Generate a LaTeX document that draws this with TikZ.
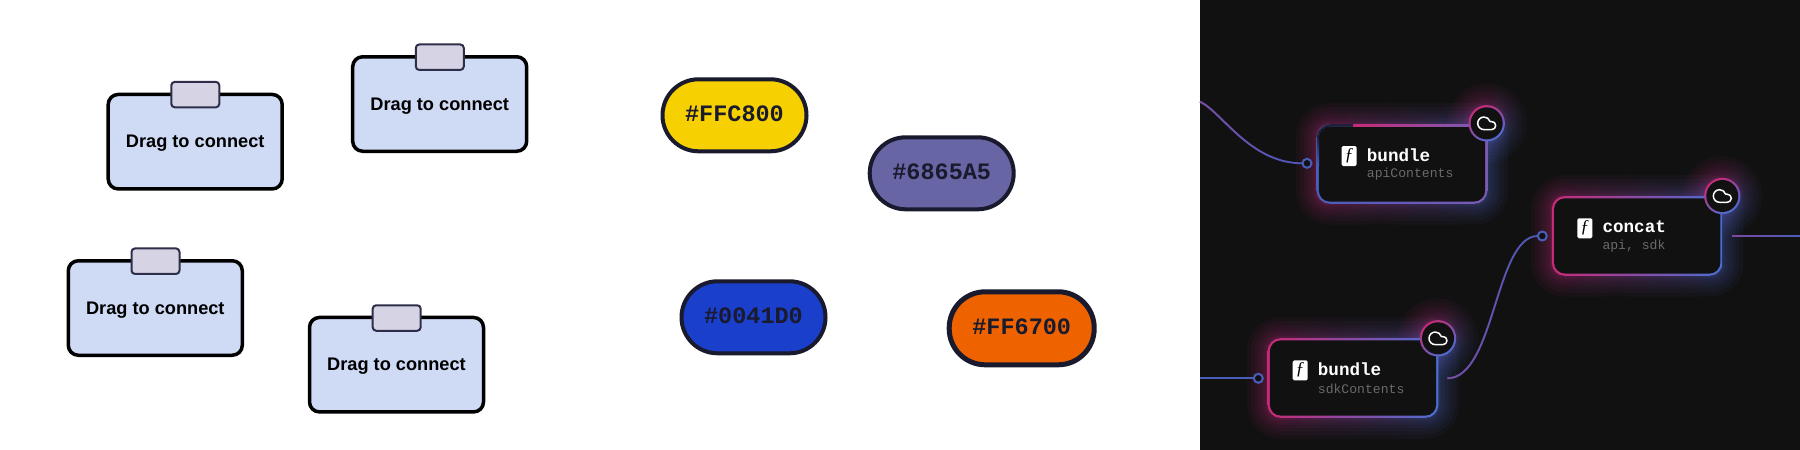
\documentclass[tikz,border=0pt]{standalone}
\usepackage{fontspec}
\setmainfont{Liberation Sans}
\setmonofont{Liberation Mono}
\newfontfamily\fnfont{Liberation Serif}
\usetikzlibrary{fadings}
\definecolor{pink}{HTML}{C92A78}
\definecolor{flowblue}{HTML}{4A6ED2}
\definecolor{edgeblue}{HTML}{4A5CBC}
\definecolor{edgepurple}{HTML}{7C4AA0}
\definecolor{rimpurple}{HTML}{7C5AB4}
\definecolor{panel}{HTML}{111111}
\definecolor{boxfill}{HTML}{CFDAF5}
\definecolor{tabfill}{HTML}{D6D4E4}
\definecolor{tabline}{HTML}{2E2E4A}
\definecolor{pillline}{HTML}{1A1A2E}
\definecolor{pillyellow}{HTML}{F6D000}
\definecolor{pillpurple}{HTML}{6865A5}
\definecolor{pillblue}{HTML}{1A3FCB}
\definecolor{pillorange}{HTML}{EE6300}
\definecolor{subgrey}{HTML}{6A6A6A}
\tikzset{
  dragbox/.style={draw=black,fill=boxfill,line width=3.5pt,rounded corners=10pt,minimum width=174pt,minimum height=94.5pt,inner sep=0pt,outer sep=0pt,text height=12.4pt,text depth=0pt,font=\bfseries\fontsize{18.2}{20}\selectfont},
  handle/.style={draw=tabline,fill=tabfill,line width=2pt,rounded corners=3.5pt,minimum width=48pt,minimum height=25.5pt,inner sep=0pt,outer sep=0pt},
  pill/.style={draw=pillline,line width=4pt,rounded corners=36pt,minimum width=144pt,minimum height=72pt,inner sep=0pt,outer sep=0pt,text=pillline,text height=16pt,text depth=3pt,font=\ttfamily\bfseries\fontsize{23.5}{26}\selectfont},
  flownode/.style={minimum width=168.5pt,minimum height=77.5pt,inner sep=0pt,outer sep=0pt},
  port/.style={circle,draw=edgeblue,fill=panel,line width=2pt,minimum size=9pt,inner sep=0pt,outer sep=0pt},
  icon/.style={fill=white,rounded corners=1.5pt,minimum width=15pt,minimum height=20pt,inner sep=0pt,outer sep=0pt,text=black,text height=12pt,text depth=4pt,font=\fnfont\itshape\fontsize{18}{18}\selectfont},
  titletext/.style={anchor=west,inner sep=0pt,text=white,font=\ttfamily\bfseries\fontsize{17.6}{20}\selectfont},
  subtext/.style={anchor=west,inner sep=0pt,text=subgrey,font=\ttfamily\fontsize{13.1}{15}\selectfont},
  edge/.style={line width=1.8pt,draw=edgeblue},
  pics/cloudglyph/.style={code={
    \draw[white,line width=1.5pt,line join=round,shift={(-10.8pt,10.8pt)},x=.9pt,y=-.9pt]
      (17.5,19) -- (9,19) .. controls (5.134,19) and (2,15.866) .. (2,12)
      .. controls (2,8.134) and (5.134,5) .. (9,5)
      .. controls (12.096,5) and (14.825,7.033) .. (15.71,10)
      -- (17.5,10) .. controls (19.985,10) and (22,12.015) .. (22,14.5)
      .. controls (22,16.985) and (19.985,19) .. (17.5,19) -- cycle;
  }}
}
\newcommand{\flowglow}[1]{%
  \foreach \d in {2,3,4,6,8,11,14,18,22}{
    \pgfmathsetmacro{\rr}{12+\d}
    \shade[left color=pink,right color=flowblue,fill opacity=.055,rounded corners=\rr pt]
      ([shift={(-\d pt,\d pt)}]#1.north west) rectangle ([shift={(\d pt,-\d pt)}]#1.south east);
    \pgfmathsetmacro{\rc}{18+\d}
    \shade[left color=pink,right color=flowblue,fill opacity=.05,shading angle=35]
      (#1c) circle[radius=\rc pt];
  }
}
\newcommand{\flowrim}[3]{%
  \shade[left color=#2,right color=#3,rounded corners=13pt]
    ([shift={(-1.1pt,1.1pt)}]#1.north west) rectangle ([shift={(1.1pt,-1.1pt)}]#1.south east);
  \fill[panel,rounded corners=11pt]
    ([shift={(1.1pt,-1.1pt)}]#1.north west) rectangle ([shift={(-1.1pt,1.1pt)}]#1.south east);
}
\newcommand{\badge}[1]{%
  \shade[left color=pink,right color=flowblue,shading angle=35] (#1c) circle[radius=18.2pt];
  \fill[panel] (#1c) circle[radius=16pt];
  \pic at (#1c) {cloudglyph};
}
\begin{document}
\begin{tikzpicture}[x=1pt,y=-1pt]
\useasboundingbox (0,0) rectangle (1800,450);
\fill[white] (0,0) rectangle (1800,450);
\fill[panel] (1200,0) rectangle (1800,450);

% drag boxes
\node[dragbox] (a) at (195.2,141.7) {Drag to connect};
\node[handle] (at) at (195.3,94.6) {};
\node[dragbox] (b) at (439.7,104) {Drag to connect};
\node[handle] (bt) at (439.8,57.2) {};
\node[dragbox] (c) at (155.3,308) {Drag to connect};
\node[handle] (ct) at (155.5,261.2) {};
\node[dragbox] (d) at (396.5,364.7) {Drag to connect};
\node[handle] (dt) at (396.7,318) {};

% colour pills
\node[pill,fill=pillyellow] (p1) at (734.5,115.3) {\#FFC800};
\node[pill,fill=pillpurple] (p2) at (941.7,173.3) {\#6865A5};
\node[pill,fill=pillblue] (p3) at (753.5,317.3) {\#0041D0};
\node[pill,fill=pillorange,line width=5pt,minimum width=145pt,minimum height=73pt] (p4) at (1021.7,328.3) {\#FF6700};

% flow nodes
\coordinate (n1c) at (1486.7,123.3);
\coordinate (n2c) at (1438,338.3);
\coordinate (n3c) at (1722.3,196);
\node[flownode] (n1) at (1402,163.9) {};
\node[flownode] (n2) at (1353,378) {};
\node[flownode] (n3) at (1637.2,235.9) {};

\flowglow{n1}
\flowglow{n2}
\flowglow{n3}

\flowrim{n1}{edgeblue}{rimpurple}
\flowrim{n2}{pink}{flowblue}
\flowrim{n3}{pink}{flowblue}
% first node: top edge lit pink, its left end dark
\shade[left color=pink,right color=rimpurple] (1353,124) rectangle (1475,126.2);
\draw[panel!78!edgeblue,line width=2.2pt] (1318,137) .. controls (1318,130.4) and (1324.6,125.1) .. (1331,125.1) -- (1353,125.1);
\shade[top color=panel!78!edgeblue,bottom color=edgeblue] (1316.9,137) rectangle (1319.1,165);

\badge{n1}
\badge{n2}
\badge{n3}

% ports
\node[port] (q1) at (1307,163.3) {};
\node[port] (q2) at (1258.3,378.3) {};
\node[port] (q3) at (1542.3,236) {};

% connector free ends
\coordinate (s1) at (1200,101.7);
\coordinate (s2) at (1200,378.3);
\coordinate (s3) at (1447.3,378.3);
\coordinate (s4) at (1732.3,236);
\coordinate (e4) at (1800,236);

\draw[edge] (s1) .. controls (1222,112) and (1250,163.3) .. (q1.west);
\draw[edge,draw=edgepurple,path fading=east] (s1) .. controls (1222,112) and (1250,163.3) .. (q1.west);
\draw[edge] (s2) -- (q2.west);
\draw[edge] (s3) .. controls (1495,378.3) and (1495,236) .. (q3.west);
\draw[edge,draw=edgepurple,path fading=east] (s3) .. controls (1495,378.3) and (1495,236) .. (q3.west);
\draw[edge] (s4) -- (e4);
\draw[edge,draw=edgepurple,path fading=east] (s4) -- (e4);

% node contents
\node[icon] (i1) at (1349.2,156) {ƒ};
\node[titletext] (t1) at (1366.7,155) {bundle};
\node[subtext] (u1) at (1366.7,174) {apiContents};
\node[icon] (i2) at (1300.2,370.3) {ƒ};
\node[titletext] (t2) at (1317.7,369) {bundle};
\node[subtext] (u2) at (1317.7,389) {sdkContents};
\node[icon] (i3) at (1584.8,228.3) {ƒ};
\node[titletext] (t3) at (1602.3,227) {concat};
\node[subtext] (u3) at (1602.3,246) {api, sdk};
\end{tikzpicture}
\end{document}
